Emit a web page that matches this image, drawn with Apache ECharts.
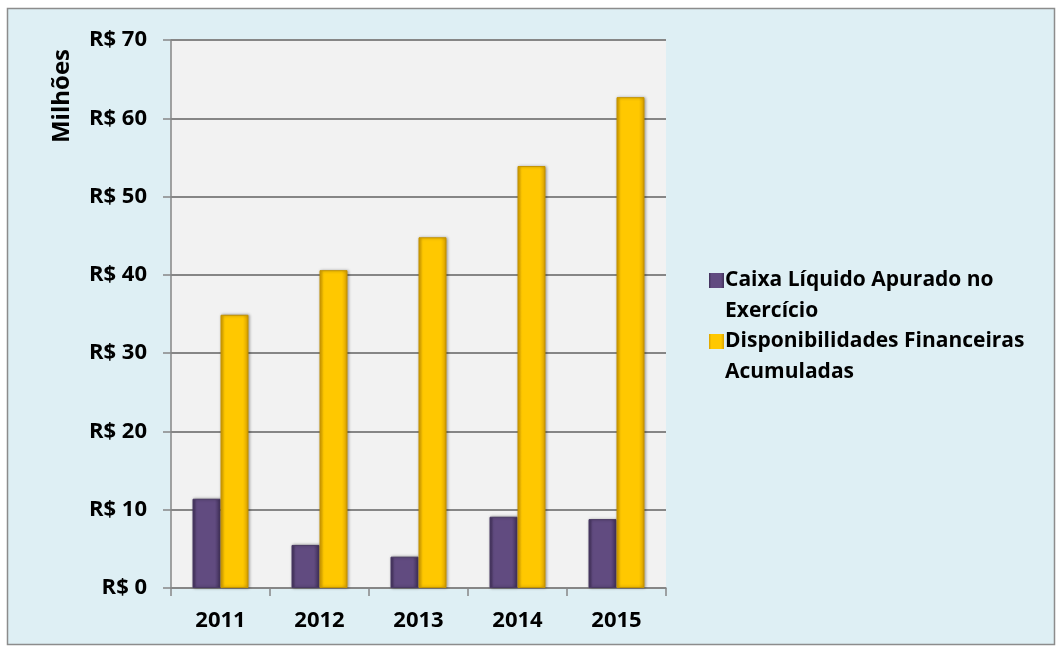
<!DOCTYPE html>
<html>
<head>
<meta charset="utf-8">
<script src="https://cdn.jsdelivr.net/npm/echarts@6/dist/echarts.min.js"></script>
<style>
  html, body { margin: 0; padding: 0; background: #fff; }
  #chart { width: 1062px; height: 650px; }
</style>
</head>
<body>
<div id="chart"></div>
<script>
const anos = ["2011", "2012", "2013", "2014", "2015"];
const caixaLiquido = [11.4, 5.5, 4.0, 9.1, 8.8];
const disponibilidades = [34.9, 40.6, 44.8, 53.9, 62.7];
const nomeCaixa = "Caixa Líquido Apurado no\nExercício";
const nomeDisp = "Disponibilidades Financeiras\nAcumuladas";

const fonte = "'Open Sans', sans-serif";

// square at the top of a tall box, so the legend marker sits on the first text line
const iconeTopo = "path://M0,0L15,0L15,15L0,15Z M0,46L0.01,46L0.01,46.01Z";

function bevel(edge, mid) {
  return {
    type: "linear", x: 0, y: 0, x2: 1, y2: 0,
    colorStops: [
      { offset: 0, color: edge },
      { offset: 0.15, color: mid },
      { offset: 0.8, color: mid },
      { offset: 1, color: edge },
    ],
  };
}

const chart = echarts.init(document.getElementById("chart"));
chart.setOption({
  backgroundColor: "#fff",
  animation: false,
  graphic: [
    {
      type: "rect",
      z: -10,
      shape: { x: 7.5, y: 8.5, width: 1047, height: 636 },
      style: { fill: "#deeff4", stroke: "#8c8c8c", lineWidth: 1.5 },
    },
    {
      type: "text",
      x: 62,
      y: 96,
      rotation: Math.PI / 2,
      style: {
        text: "Milhões",
        font: "bold 24px " + fonte,
        fill: "#000",
        align: "center",
        verticalAlign: "middle",
      },
    },
  ],
  grid: {
    left: 171,
    right: 396,
    top: 40,
    bottom: 62,
    show: true,
    backgroundColor: "#f2f2f2",
    borderWidth: 0,
  },
  legend: {
    orient: "vertical",
    left: 704,
    top: 260,
    itemWidth: 15,
    itemHeight: 46,
    itemGap: -1,
    icon: iconeTopo,
    itemStyle: { borderWidth: 0 },
    textStyle: {
      fontFamily: fonte,
      fontWeight: "bold",
      fontSize: 21,
      color: "#000",
      lineHeight: 31,
      padding: [0, 0, 0, -4],
    },
    data: [nomeCaixa, nomeDisp],
  },
  xAxis: {
    type: "category",
    data: anos,
    axisLine: { lineStyle: { color: "#868686", width: 1.5 } },
    axisTick: { show: true, length: 8, lineStyle: { color: "#868686", width: 1.5 } },
    axisLabel: {
      color: "#000",
      fontFamily: fonte,
      fontWeight: "bold",
      fontSize: 22,
      margin: 22,
    },
  },
  yAxis: {
    type: "value",
    min: 0,
    max: 70,
    interval: 10,
    axisLine: { show: true, lineStyle: { color: "#868686", width: 1.5 } },
    axisTick: { show: true, length: 8, lineStyle: { color: "#868686", width: 1.5 } },
    axisLabel: {
      color: "#000",
      fontFamily: fonte,
      fontWeight: "bold",
      fontSize: 22,
      margin: 24,
      formatter: (v) => "R$ " + v,
    },
    splitLine: { lineStyle: { color: "#868686", width: 2 } },
  },
  series: [
    {
      name: nomeCaixa,
      type: "bar",
      data: caixaLiquido,
      barWidth: 28,
      barGap: "0%",
      itemStyle: {
        color: bevel("#3f2f58", "#614b80"),
        borderColor: "#4a3a64",
        borderWidth: 1,
        shadowColor: "rgba(0,0,0,0.35)",
        shadowBlur: 3,
        shadowOffsetX: 1,
      },
    },
    {
      name: nomeDisp,
      type: "bar",
      data: disponibilidades,
      barWidth: 28,
      barGap: "0%",
      itemStyle: {
        color: bevel("#d9a100", "#ffc800"),
        borderColor: "#c59300",
        borderWidth: 1,
        shadowColor: "rgba(0,0,0,0.35)",
        shadowBlur: 3,
        shadowOffsetX: 1,
      },
    },
  ],
});
</script>
</body>
</html>
